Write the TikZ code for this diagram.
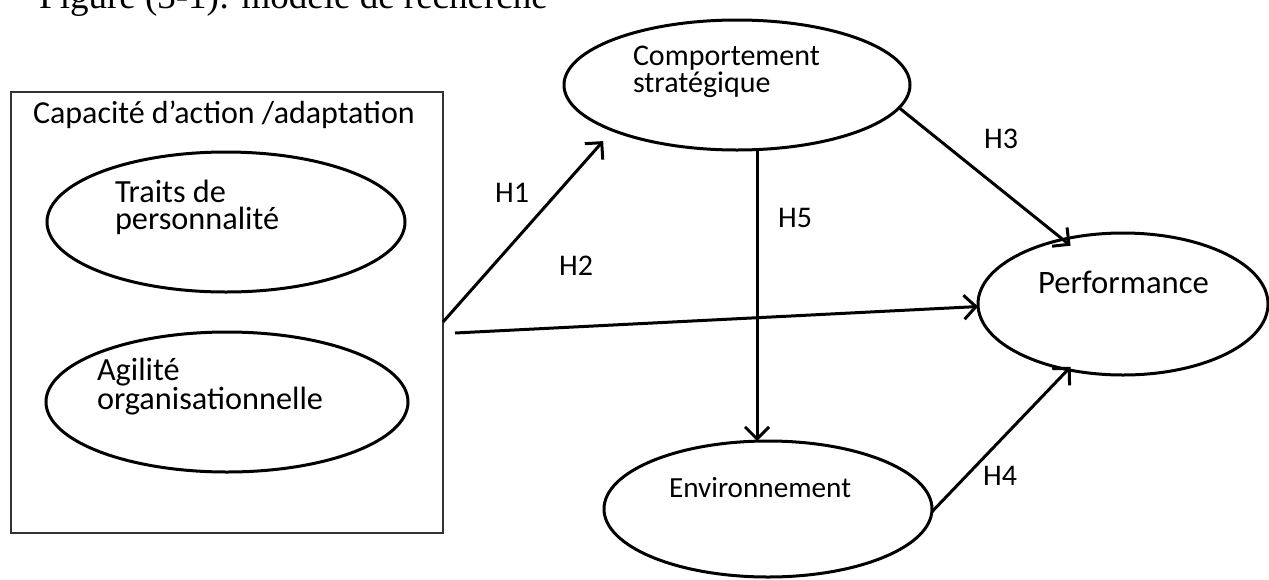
\documentclass[tikz,border=0pt]{standalone}
\usepackage{fontspec}
\setmainfont{Carlito}
\newfontfamily\titlefont{Liberation Serif}
\usetikzlibrary{shapes.geometric,arrows.meta}
\begin{document}
\begin{tikzpicture}[x=1pt,y=-1pt,
  bubble/.style={ellipse,draw,line width=3pt,outer sep=0pt,inner sep=0pt},
  lbl/.style={anchor=base west,inner sep=0pt,outer sep=0pt,align=left},
  sz/.style={font=\fontsize{#1}{27.5}\selectfont},
  hyp/.style={anchor=base west,inner sep=0pt,font=\fontsize{30}{30}\selectfont},
  arr/.style={line width=3pt,-{Straight Barb[length=12pt,width=24pt,line width=3pt]}}]
\useasboundingbox (0,0) rectangle (1269,579);
\clip (0,0) rectangle (1269,579);

% caption line, cut off at the top edge
\node[anchor=base west,inner sep=0pt,font=\titlefont\fontsize{37}{37}\selectfont] (title) at (39,8) {Figure (3-1): modèle de recherche};

% enclosing frame for the two capacities
\node[draw=black!80,line width=1.3pt,minimum width=432pt,minimum height=441pt,inner sep=0pt,outer sep=0pt] (box) at (227,312.5) {};
\node[lbl,sz=32] (boxtxt) at (33,123) {Capacité d’action /adaptation};

% multi-line labels are placed by the baseline of their last line
\node[bubble,minimum width=358pt,minimum height=140pt] (traits) at (226,222) {};
\node[lbl,sz=32.3] (traitstxt) at (115,229.5) {Traits de\\personnalité};

\node[bubble,minimum width=362pt,minimum height=140pt] (agil) at (227,402) {};
\node[lbl,sz=32.3] (agiltxt) at (97,409.5) {Agilité\\organisationnelle};

\node[bubble,minimum width=346pt,minimum height=130pt] (cs) at (737,85) {};
\node[lbl,sz=30] (cstxt) at (633,92.5) {Comportement\\stratégique};

\node[bubble,minimum width=290pt,minimum height=142pt] (perf) at (1123,304) {};
\node[lbl,sz=32.7] (perftxt) at (1038,293) {Performance};

\node[bubble,minimum width=328pt,minimum height=136pt] (env) at (768,509) {};
\node[lbl,sz=29.2] (envtxt) at (669,497) {Environnement};

% hypotheses
\draw[arr,shorten >=14.5pt] ([yshift=-9.5pt]box.east) -- (cs.200);
\draw[arr] ([xshift=12pt,yshift=-20.5pt]box.east) -- (perf.181);
\draw[arr,shorten >=-10pt] (cs.-8) -- (perf.133);
\draw[arr,shorten >=-4pt] (env.-1) -- (perf.230);
\draw[arr] ([xshift=20pt]cs.south) -- ([xshift=20pt]cs.south |- env.north);

\node[hyp] (h1) at (495,202) {H1};
\node[hyp] (h2) at (559,275) {H2};
\node[hyp] (h3) at (984,148) {H3};
\node[hyp] (h4) at (983,485) {H4};
\node[hyp] (h5) at (778,227) {H5};
\end{tikzpicture}
\end{document}
